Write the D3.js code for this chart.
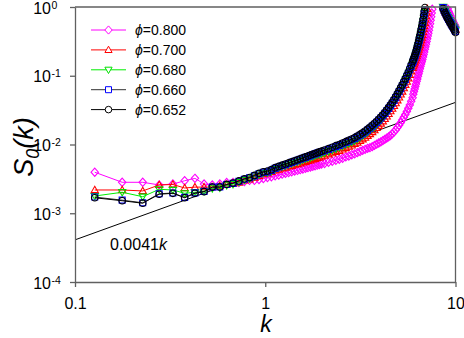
<!DOCTYPE html>
<html><head><meta charset="utf-8">
<script src="https://cdn.jsdelivr.net/npm/d3@7"></script>
<style>body{margin:0;background:#fff}svg{display:block;font-family:"Liberation Sans",Arial,sans-serif}</style>
</head><body><svg id="c" width="464" height="338"></svg>
<script>
// shared wave-number grid
const kValues = [
  0.127,0.177,0.227,0.277,0.327,0.377,0.427,0.477,0.527,0.577,0.627,0.677,0.727,0.777,0.827,0.877,0.927,0.977,
  1.027,1.077,1.127,1.177,1.227,1.277,1.327,1.377,1.427,1.477,1.527,1.577,1.627,1.677,1.727,1.777,1.827,1.877,1.927,1.977,
  2.05,2.15,2.25,2.35,2.45,2.55,2.65,2.75,2.85,2.95,3.05,3.15,3.25,3.35,3.45,3.55,3.65,3.75,3.85,3.95,
  4.05,4.15,4.25,4.35,4.45,4.55,4.65,4.75,4.85,4.95,5.05,5.15,5.25,5.35,5.45,5.55,5.65,5.75,5.85,5.95,
  6.00,6.05,6.10,6.15,6.20,6.25,6.30,6.35,6.40,6.45,6.50,6.55,6.60,6.65,6.70,6.75,6.80,6.85,6.90,
  6.95,7.00,7.05,7.10,7.15,7.20,7.25,7.30,7.35,7.40,7.45,7.50,7.55,7.60,
  8.3,8.4,8.5,8.6,8.7,8.8,8.9,9.0,9.1,9.2,9.3,9.4,9.5,9.6,9.7,9.8,9.9,10.0
];
const phiLabels = ["0.800","0.700","0.680","0.660","0.652"];
const s800 = [
  0.00395,0.00282,0.00282,0.00258,0.00266,0.00297,0.00322,0.00266,0.00258,0.00266,0.0028,0.0028,0.0028,0.0029,0.003,0.003,0.0031,0.0032,
  0.0033,0.0034,0.0035,0.0036,0.0037,0.0038,0.0039,0.004,0.0041,0.0042,0.0043,0.0044,0.0045,0.0046,0.0047,0.0048,0.0049,0.005,0.0051,0.0052,
  0.0053,0.0055,0.0057,0.0059,0.0061,0.0063,0.0066,0.0068,0.0071,0.0073,0.0076,0.0079,0.0082,0.0085,0.0088,0.009,0.0093,0.0097,0.0101,0.0105,
  0.0109,0.0114,0.0119,0.0124,0.0129,0.0135,0.0143,0.0152,0.0163,0.0176,0.0191,0.0208,0.0227,0.0249,0.0274,0.0303,0.0337,0.0377,0.0425,0.048,
  0.054,0.059,0.064,0.07,0.076,0.083,0.09,0.098,0.107,0.116,0.126,0.137,0.148,0.16,0.173,0.188,0.204,0.222,0.242,
  0.264,0.288,0.315,0.345,0.378,0.415,0.46,0.51,0.57,0.64,0.72,0.82,0.93,1.06,
  2.2,2.0,1.8,1.6,1.4,1.25,1.12,1.02,0.94,0.87,0.81,0.75,0.7,0.66,0.62,0.58,0.55,0.52
];
const s700 = [
  0.00218,0.00218,0.00211,0.00258,0.00262,0.00233,0.0024,0.0024,0.0024,0.0025,0.0026,0.0027,0.0028,0.003,0.0031,0.0033,0.0035,0.0037,
  0.0038,0.004,0.0042,0.0043,0.0045,0.0046,0.0048,0.0049,0.0051,0.0052,0.0053,0.0055,0.0056,0.0058,0.0059,0.0061,0.0062,0.0064,0.0065,0.0067,
  0.0069,0.0072,0.0075,0.0078,0.0081,0.0085,0.0089,0.0093,0.0097,0.0102,0.0107,0.0113,0.0119,0.0126,0.0134,0.0142,0.0152,0.0162,0.0174,0.0187,
  0.0202,0.0218,0.0236,0.0256,0.0279,0.0305,0.0333,0.0365,0.04,0.044,0.0485,0.0535,0.059,0.066,0.074,0.082,0.092,0.103,0.116,0.13,
  0.138,0.147,0.157,0.168,0.18,0.193,0.207,0.223,0.24,0.259,0.28,0.303,0.33,0.36,0.395,0.435,0.48,0.53,0.59,
  0.66,0.74,0.83,0.94,1.06,1.2,1.4,1.6,1.8,2.0,2.2,2.4,2.6,2.8,
  1.6,1.35,1.15,1.03,0.96,0.89,0.83,0.78,0.74,0.7,0.66,0.63,0.6,0.57,0.545,0.52,0.495,0.47
];
const s680 = [
  0.00178,0.00202,0.00174,0.00223,0.00218,0.00195,0.00202,0.0021,0.0023,0.00235,0.00255,0.00265,0.00285,0.00305,0.0032,0.00342,0.00365,0.00385,
  0.0039,0.0041,0.0044,0.0046,0.0048,0.0049,0.0051,0.0053,0.0055,0.0056,0.0058,0.006,0.0062,0.0064,0.0065,0.0067,0.0069,0.0071,0.0072,0.0074,
  0.0076,0.008,0.0083,0.0087,0.0091,0.0095,0.01,0.0104,0.0109,0.0114,0.012,0.0127,0.0134,0.0142,0.0151,0.0161,0.0172,0.0183,0.0196,0.021,
  0.0226,0.0244,0.0264,0.0286,0.0311,0.0339,0.0371,0.0407,0.0447,0.0493,0.0545,0.0603,0.0666,0.0738,0.082,0.091,0.101,0.114,0.128,0.144,
  0.153,0.163,0.175,0.187,0.201,0.217,0.235,0.255,0.278,0.304,0.334,0.367,0.405,0.45,0.5,0.56,0.63,0.72,0.82,
  0.93,1.05,1.2,1.4,1.6,1.8,2.0,2.3,2.5,2.7,2.9,3.0,3.1,3.2,
  1.5,1.3,1.1,1.0,0.93,0.87,0.81,0.76,0.72,0.68,0.645,0.61,0.58,0.555,0.53,0.505,0.48,0.455
];
const s660 = [
  0.00172,0.00155,0.00142,0.00192,0.00197,0.0017,0.00198,0.00208,0.0024,0.00242,0.00262,0.00272,0.00292,0.00312,0.00328,0.0035,0.00375,0.00395,
  0.004,0.0042,0.0045,0.0047,0.0049,0.0051,0.0053,0.0055,0.0057,0.0059,0.0061,0.0063,0.0065,0.0067,0.0069,0.0071,0.0073,0.0075,0.0077,0.0079,
  0.0081,0.0085,0.0089,0.0093,0.0097,0.0102,0.0107,0.0112,0.0117,0.0122,0.0129,0.0136,0.0143,0.0152,0.0162,0.0172,0.0184,0.0197,0.021,0.0226,
  0.0243,0.0262,0.0284,0.0308,0.0335,0.0365,0.0399,0.0437,0.0481,0.053,0.0586,0.0647,0.0715,0.079,0.088,0.098,0.109,0.122,0.137,0.154,
  0.163,0.174,0.186,0.199,0.214,0.232,0.251,0.273,0.298,0.327,0.359,0.395,0.437,0.485,0.54,0.61,0.69,0.79,0.9,
  1.02,1.18,1.4,1.6,1.8,2.0,2.3,2.5,2.7,2.9,3.1,3.2,3.3,3.4,
  1.45,1.25,1.06,0.98,0.9,0.84,0.79,0.74,0.7,0.66,0.625,0.595,0.565,0.54,0.515,0.49,0.465,0.44
];
const s652 = [
  0.00168,0.00152,0.0014,0.00189,0.00195,0.00168,0.00195,0.00206,0.0024,0.0024,0.00263,0.00275,0.00295,0.00316,0.0033,0.00355,0.0038,0.004,
  0.0041,0.0043,0.0046,0.0048,0.005,0.0052,0.0054,0.0056,0.0058,0.006,0.0062,0.0064,0.0066,0.0068,0.007,0.0072,0.0074,0.0076,0.0078,0.008,
  0.0083,0.0087,0.0091,0.0096,0.01,0.0105,0.011,0.0115,0.012,0.0126,0.0133,0.014,0.0148,0.0157,0.0167,0.0178,0.019,0.0203,0.0217,0.0233,
  0.0251,0.0271,0.0293,0.0318,0.0346,0.0377,0.0412,0.0452,0.0497,0.0548,0.0606,0.067,0.074,0.082,0.091,0.101,0.113,0.127,0.143,0.161,
  0.171,0.183,0.196,0.21,0.226,0.245,0.266,0.29,0.318,0.35,0.385,0.425,0.47,0.52,0.58,0.66,0.75,0.86,0.98,
  1.12,1.3,1.5,1.7,1.9,2.1,2.4,2.6,2.8,3.0,3.2,3.3,3.4,3.5,
  1.4,1.2,1.02,0.95,0.88,0.82,0.77,0.72,0.68,0.645,0.61,0.58,0.55,0.525,0.5,0.475,0.45,0.425
];
const xTickValues = [0.1, 1, 10];
const xTickLabels = ["0.1", "1", "10"];
const yTickExponents = [0, -1, -2, -3, -4];
const fitCoefficient = 0.0041;
const fitText = "0.0041";

const seriesValues = [s800, s700, s680, s660, s652];
const markerColors = ["#ff00ff", "#ff0000", "#00e000", "#0000ff", "#000000"];
const lineColors = ["#ff00ff", "#ff0000", "#00ee00", "#333333", "#000000"];
const shapes = ["diamond", "triangle", "tridown", "square", "circle"];

const svg = d3.select("#c");
svg.append("rect").attr("width", 464).attr("height", 338).attr("fill", "#fff");
const X0 = 75, X1 = 455.5, Y0 = 7, Y1 = 282;
const x = d3.scaleLog().domain([0.1, 10]).range([X0, X1]);
const y = d3.scaleLog().domain([1e-4, 1]).range([Y1, Y0]);
const axisColor = "#606060";

svg.append("defs").append("clipPath").attr("id", "clip")
  .append("rect").attr("x", X0).attr("y", Y0).attr("width", X1 - X0).attr("height", Y1 - Y0);

function shapePath(s) {
  switch (s) {
    case "diamond": return "M0,-4.1L3.7,0L0,4.1L-3.7,0Z";
    case "triangle": return "M0,-3.7L3.6,2.6L-3.6,2.6Z";
    case "tridown": return "M0,3.7L3.6,-2.6L-3.6,-2.6Z";
    case "square": return "M-3,-3H3V3H-3Z";
    default: return "M3.3,0A3.3,3.3 0 1,1 -3.3,0A3.3,3.3 0 1,1 3.3,0Z";
  }
}

// fit line 0.0041k
svg.append("path")
  .attr("d", d3.line().x(d => x(d)).y(d => y(fitCoefficient * d))([0.1, 10]))
  .attr("stroke", "#000").attr("stroke-width", 1).attr("fill", "none");

// series
seriesValues.forEach((vals, si) => {
  const pts = kValues.map((k, i) => ({k, v: vals[i]})).filter(p => p.v !== undefined);
  const g = svg.append("g");
  g.append("path")
    .attr("clip-path", "url(#clip)")
    .attr("d", d3.line().defined(p => p.v <= 1.0).x(p => x(p.k)).y(p => y(p.v))(pts))
    .attr("fill", "none").attr("stroke", lineColors[si]).attr("stroke-width", 1);
  g.selectAll("path.m").data(pts.filter(p => p.v <= 1.0 && p.k <= 10)).join("path")
    .attr("class", "m")
    .attr("transform", p => `translate(${x(p.k)},${y(p.v)})`)
    .attr("d", shapePath(shapes[si]))
    .attr("fill", "none").attr("stroke", markerColors[si]).attr("stroke-width", 1.1);
});

// frame top/right
svg.append("path").attr("d", `M${X0},${Y0}H${X1}V${Y1}`)
  .attr("fill", "none").attr("stroke", axisColor).attr("stroke-width", 1.3);

// x axis
const gx = svg.append("g").attr("transform", `translate(0,${Y1})`)
  .call(d3.axisBottom(x).tickValues(xTickValues).tickFormat((d, i) => xTickLabels[i])
    .tickSize(5).tickSizeOuter(0).tickPadding(11));
gx.select(".domain").attr("stroke", axisColor).attr("stroke-width", 1.3);
gx.selectAll(".tick line").attr("stroke", axisColor).attr("stroke-width", 1.3);
gx.selectAll(".tick text").attr("font-size", 16).attr("fill", "#000")
  .attr("font-family", "Liberation Sans, Arial, sans-serif");

// y axis
const gy = svg.append("g").attr("transform", `translate(${X0},0)`)
  .call(d3.axisLeft(y).tickValues(yTickExponents.map(e => Math.pow(10, e)))
    .tickFormat("").tickSize(5).tickSizeOuter(0));
gy.select(".domain").attr("stroke", axisColor).attr("stroke-width", 1.3);
gy.selectAll(".tick line").attr("stroke", axisColor).attr("stroke-width", 1.3);
gy.selectAll(".tick text").remove();
gy.selectAll(".tick").each(function (d, i) {
  const t = d3.select(this);
  t.append("text").attr("x", -24).attr("y", 6).attr("text-anchor", "end")
    .attr("font-size", 16).attr("fill", "#000").text("10");
  t.append("text").attr("x", -23.5).attr("y", 1).attr("text-anchor", "start")
    .attr("font-size", 10.5).attr("fill", "#000").text(String(yTickExponents[i]));
});

// axis titles
const yt = svg.append("text").attr("transform", "translate(33,147) rotate(-90)")
  .attr("text-anchor", "middle").attr("font-size", 27).attr("font-style", "italic").attr("fill", "#000");
yt.append("tspan").text("S");
yt.append("tspan").attr("font-size", 18).attr("dy", 6).text("0");
yt.append("tspan").attr("dy", -6).text("(k)");

svg.append("text").attr("x", 266).attr("y", 332).attr("text-anchor", "middle")
  .attr("font-size", 23).attr("font-style", "italic").attr("fill", "#000").text("k");

// fit label
const fl = svg.append("text").attr("x", 110).attr("y", 250).attr("font-size", 16).attr("fill", "#000");
fl.append("tspan").text(fitText);
fl.append("tspan").attr("font-style", "italic").text("k");

// legend
const leg = svg.append("g");
phiLabels.forEach((lab, i) => {
  const ly = 30 + i * 19.9;
  leg.append("line").attr("x1", 91).attr("x2", 126).attr("y1", ly).attr("y2", ly)
    .attr("stroke", lineColors[i]).attr("stroke-width", 1);
  leg.append("path").attr("transform", `translate(108.5,${ly})`).attr("d", shapePath(shapes[i]))
    .attr("fill", "#fff").attr("stroke", markerColors[i]).attr("stroke-width", 1);
  const t = leg.append("text").attr("x", 135).attr("y", ly + 5).attr("font-size", 14).attr("fill", "#000");
  t.append("tspan").attr("font-style", "italic").text("\u03d5");
  t.append("tspan").text("=" + lab);
});
</script></body></html>
